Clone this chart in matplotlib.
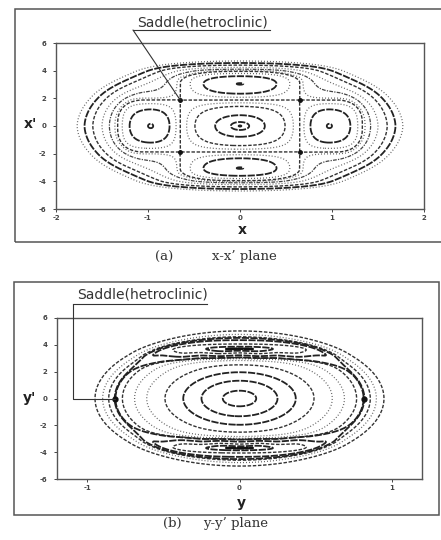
import numpy as np
import matplotlib.pyplot as plt
import contourpy
from matplotlib.patches import Rectangle
from matplotlib.lines import Line2D

plt.rcParams['font.family'] = ['DejaVu Sans']
plt.rcParams['axes.unicode_minus'] = False

# ---- values ----
# (a) x-x' plane
a_saddle = (0.65, 1.88)     # heteroclinic saddles at (+-x, +-x')
a_center = (0.97, 3.05)     # side islands (+-0.97, 0), upper/lower islands (0, +-3.05)
a_rim = (1.33, 3.95)        # island separatrices cut the axes here
a_outer = (1.77, 4.7)       # outermost orbit on the axes
a_orbit_x = [0.015, 0.1, 0.27, 0.49, 0.58, 1.0, 1.2, 1.28, 1.36, 1.42, 1.5, 1.6, 1.69, 1.77]
a_style_x = ['bold', 'bold', 'bold', 'dash', 'dot', 'bold', 'bold', 'dot', 'dot', 'dashdot',
             'dot', 'dash', 'bold', 'dot']
a_orbit_v = [3.1, 3.6, 3.8]
a_style_v = ['bold', 'bold', 'dot']

# (b) y-y' plane
b_saddle_y = 0.82
b_well_v = 3.7
b_aspect = 5.3              # y'/y ratio of the inner ellipses
b_lobe_waves = 6            # scallops along each chaotic lobe
b_orbit_y = [0.11, 0.25, 0.37, 0.49, 0.61, 0.69, 0.77, 0.86, 0.9, 0.95]
b_style_y = ['bold', 'bold', 'bold', 'dash', 'dot', 'dot', 'dash', 'dash', 'dot', 'dash']
b_orbit_v = [3.7, 3.56, 3.4, 3.22]
b_style_v = ['heavy', 'bold', 'dash', 'bold']

styles = {
    'heavy': dict(ls=(0, (5, 0.6)), lw=1.6, c='#111111'),
    'bold': dict(ls=(0, (4, 0.8)), lw=1.3, c='#222222'),
    'dash': dict(ls=(0, (2.5, 1.2)), lw=1.0, c='#333333'),
    'dot': dict(ls=(0, (0.8, 1.6)), lw=0.9, c='#666666'),
    'dashdot': dict(ls=(0, (3, 1, 1, 1)), lw=0.9, c='#444444'),
}


def phase(t, cut, mid, rim, far):
    # quarter turns at the separatrix, the island centre and the rim
    q = np.pi / 2
    slope = q / (rim - mid)
    return np.interp(np.abs(t), [0, cut, mid, rim, far],
                     [0, q, 2 * q, 3 * q, 3 * q + slope * (far - rim)])


def field_a(x, v, g=None):
    cell = (np.cos(phase(x, a_saddle[0], a_center[0], a_rim[0], 4))
            * np.cos(phase(v, a_saddle[1], a_center[1], a_rim[1], 10)))
    ax_, av_ = np.abs(x) / a_rim[0], np.abs(v) / a_rim[1]
    s2 = ax_ ** 2 + av_ ** 2
    s16 = ax_ ** 1.6 + av_ ** 1.6
    f = cell + 17.5 * np.clip(s2 - 1, 0, None) ** 2 + 8 * np.clip(s16 - 1, 0, None) ** 2
    if g is None:
        g = A_TOP
    return f + g * np.clip(np.abs(v) - a_rim[1], 0, None) ** 2


A_TOP = 0.0
A_TOP = ((field_a(a_outer[0], 0.0, 0.0) - field_a(0.0, a_outer[1], 0.0))
         / (a_outer[1] - a_rim[1]) ** 2)


def field_b(y, v):
    ry = b_saddle_y
    rv = ry * b_aspect
    r = (y / ry) ** 2 + (v / rv) ** 2 - 1
    f = np.where(r < 0, 1.0, 12.0) * r ** 2
    c0 = b_well_v - 0.09
    for c in (c0, -c0):
        f = f - 0.55 * np.exp(-(y / 0.6) ** 2 - ((v - c) / 0.65) ** 2)
    k = 2 * np.pi * b_lobe_waves / (2 * 0.75)
    f = f + 0.03 * np.cos(k * y) * np.exp(-((np.abs(v) - 3.25) / 0.3) ** 2)
    return f


def find_saddle(f, x, v):
    h = 1e-4
    for _ in range(40):
        fx = (f(x + h, v) - f(x - h, v)) / (2 * h)
        fv = (f(x, v + h) - f(x, v - h)) / (2 * h)
        fxx = (f(x + h, v) - 2 * f(x, v) + f(x - h, v)) / h ** 2
        fvv = (f(x, v + h) - 2 * f(x, v) + f(x, v - h)) / h ** 2
        fxv = (f(x + h, v + h) - f(x + h, v - h) - f(x - h, v + h) + f(x - h, v - h)) / (4 * h * h)
        d = np.linalg.solve([[fxx, fxv], [fxv, fvv]], [-fx, -fv])
        x, v = x + d[0], v + d[1]
    return x, v


def draw_orbit(ax, gen, level, anchors, span, name, tol=0.012):
    st = styles[name]
    for line in gen.lines(level):
        if len(line) < 3:
            continue
        best = min(np.min(np.hypot((line[:, 0] - px) / span[0], (line[:, 1] - pv) / span[1]))
                   for px, pv in anchors)
        if best < tol:
            ax.plot(line[:, 0], line[:, 1], color=st['c'], lw=st['lw'], ls=st['ls'])


def frame(ax, xlim, xticks):
    ax.set_xlim(*xlim)
    ax.set_ylim(-6, 6)
    ax.set_xticks(xticks)
    ax.set_yticks([-6, -4, -2, 0, 2, 4, 6])
    ax.tick_params(direction='out', length=2.5, width=0.7, labelsize=5, colors='#444444')
    ax.tick_params(axis='y', pad=4.5)
    ax.tick_params(axis='x', pad=1.5)
    for lab in ax.get_xticklabels() + ax.get_yticklabels():
        lab.set_fontweight('bold')
    for s in ax.spines.values():
        s.set_color('#555555')
        s.set_linewidth(1.0)


def panel(ax, f, xlim, orbit_x, style_x, orbit_v, style_v, saddles, sep_style):
    xs = np.linspace(xlim[0], xlim[1], 900)
    vs = np.linspace(-6, 6, 900)
    X, V = np.meshgrid(xs, vs)
    gen = contourpy.contour_generator(X, V, f(X, V), line_type=contourpy.LineType.Separate)
    span = (xlim[1] - xlim[0], 12.0)
    for x, name in zip(orbit_x, style_x):
        draw_orbit(ax, gen, f(x, 0.0), [(x, 0.0), (-x, 0.0)], span, name)
    for v, name in zip(orbit_v, style_v):
        draw_orbit(ax, gen, f(0.0, v), [(0.0, v), (0.0, -v)], span, name)
    level = f(*saddles[0]) + 1e-4
    draw_orbit(ax, gen, level, saddles, span, sep_style, tol=0.02)


fig = plt.figure(figsize=(4.41, 5.40), dpi=100)

# ---------- (a) ----------
axA = fig.add_axes([56 / 441, 1 - 209 / 540, 368 / 441, 166 / 540])
sa = find_saddle(field_a, a_saddle[0] + 0.01, a_saddle[1] + 0.01)
sa = (abs(sa[0]), abs(sa[1]))
saddles_a = [(sa[0], sa[1]), (-sa[0], sa[1]), (sa[0], -sa[1]), (-sa[0], -sa[1])]
panel(axA, field_a, (-2, 2), a_orbit_x, a_style_x, a_orbit_v, a_style_v, saddles_a, 'dash')
axA.plot([p[0] for p in saddles_a], [p[1] for p in saddles_a], 'o', color='#111111', ms=2.5)
frame(axA, (-2, 2), [-2, -1, 0, 1, 2])

axA.annotate('', xy=(-sa[0], sa[1]), xycoords='data',
             xytext=(133 / 441, 1 - 30 / 540), textcoords='figure fraction',
             arrowprops=dict(arrowstyle='-', color='#333333', lw=0.8, shrinkA=0, shrinkB=0),
             annotation_clip=False)
fig.text(137 / 441, 1 - 22 / 540, 'Saddle(hetroclinic)', fontsize=10, color='#333333',
         ha='left', va='center')
fig.add_artist(Line2D([133 / 441, 270 / 441], [1 - 30 / 540, 1 - 30 / 540],
                      transform=fig.transFigure, color='#333333', lw=0.8))
fig.text(242 / 441, 1 - 230 / 540, 'x', fontsize=10, fontweight='bold', color='#222222',
         ha='center', va='center')
fig.text(30 / 441, 1 - 124 / 540, "x'", fontsize=10, fontweight='bold', color='#222222',
         ha='center', va='center')
fig.add_artist(Rectangle((15 / 441, 1 - 242 / 540), 430 / 441, 233 / 540,
                         transform=fig.transFigure, fill=False, ec='#555555', lw=1.1))
fig.text(155 / 441, 1 - 257 / 540, '(a)', family='DejaVu Serif', fontsize=9.5,
         color='#333333', ha='left', va='center')
fig.text(212 / 441, 1 - 257 / 540, "x-x\u2019 plane", family='DejaVu Serif', fontsize=9.5,
         color='#333333', ha='left', va='center')

# ---------- (b) ----------
axB = fig.add_axes([57 / 441, 1 - 479 / 540, 365 / 441, 161 / 540])
ys = np.linspace(0.6, 1.0, 4001)
sy = ys[np.argmin(field_b(ys, 0.0))]
saddles_b = [(sy, 0.0), (-sy, 0.0)]
panel(axB, field_b, (-1.2, 1.2), b_orbit_y, b_style_y, b_orbit_v, b_style_v, saddles_b, 'bold')
axB.plot([p[0] for p in saddles_b], [0, 0], 'o', color='#111111', ms=3.5)
frame(axB, (-1.2, 1.2), [-1, 0, 1])

axB.annotate('', xy=(-sy, 0), xycoords='data',
             xytext=(73 / 441, 1 - 304 / 540), textcoords='figure fraction',
             arrowprops=dict(arrowstyle='-', color='#333333', lw=0.8, shrinkA=0, shrinkB=0,
                             connectionstyle='angle,angleA=90,angleB=0,rad=0'),
             annotation_clip=False)
fig.text(77 / 441, 1 - 295 / 540, 'Saddle(hetroclinic)', fontsize=10, color='#333333',
         ha='left', va='center')
fig.add_artist(Line2D([73 / 441, 207 / 441], [1 - 304 / 540, 1 - 304 / 540],
                      transform=fig.transFigure, color='#333333', lw=0.8))
fig.text(241 / 441, 1 - 503 / 540, 'y', fontsize=10, fontweight='bold', color='#222222',
         ha='center', va='center')
fig.text(30 / 441, 1 - 398 / 540, "y'", fontsize=10, fontweight='bold', color='#222222',
         ha='center', va='center')
fig.add_artist(Rectangle((14 / 441, 1 - 515 / 540), 425 / 441, 233 / 540,
                         transform=fig.transFigure, fill=False, ec='#555555', lw=1.1))
fig.text(163 / 441, 1 - 523 / 540, '(b)', family='DejaVu Serif', fontsize=9.5,
         color='#333333', ha='left', va='center')
fig.text(203 / 441, 1 - 523 / 540, "y-y\u2019 plane", family='DejaVu Serif', fontsize=9.5,
         color='#333333', ha='left', va='center')

fig.savefig('out.png', dpi=100)
